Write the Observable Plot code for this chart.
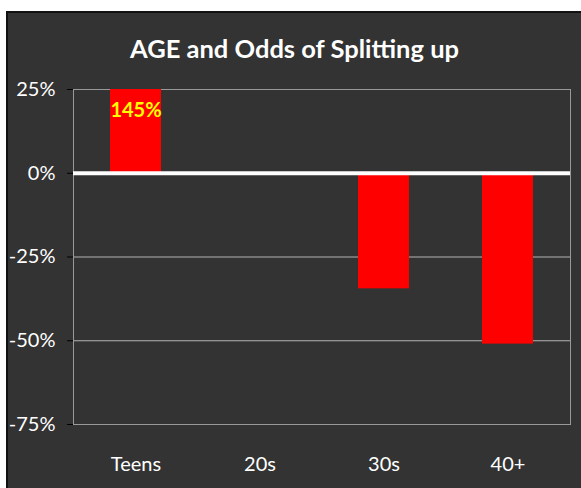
<!DOCTYPE html>
<html>
<head>
<meta charset="utf-8">
<script src="https://cdn.jsdelivr.net/npm/d3@7"></script>
<script src="https://cdn.jsdelivr.net/npm/@observablehq/plot@0.6"></script>
<style>
  html, body { margin: 0; padding: 0; background: #ffffff; }
  #panel {
    position: absolute; left: 6px; top: 11px;
    width: 573px; height: 475px;
    background: #333333;
    border-left: 2px solid #111111; border-top: 2px solid #111111;
    overflow: hidden;
  }
  #title {
    position: absolute; left: 0; top: 22px; width: 100%;
    text-align: center; color: #ffffff;
    font-family: Lato, sans-serif; font-weight: bold; font-size: 25.5px; line-height: 26px;
  }
  #chart { position: absolute; left: 0; top: 0; }
</style>
</head>
<body>
<div id="panel">
  <div id="chart"></div>
  <div id="title">AGE and Odds of Splitting up</div>
</div>
<script>
const categories = ["Teens", "20s", "30s", "40+"];
const values = [145, 0, -34.5, -51];
const dataLabels = ["145%", null, null, null];
const yTicks = [25, 0, -25, -50, -75];

const data = categories.map((c, i) => ({cat: c, value: values[i], label: dataLabels[i]}));

const chart = Plot.plot({
  width: 573,
  height: 475,
  marginLeft: 65,
  marginRight: 11,
  marginTop: 76,
  marginBottom: 64,
  style: {background: "transparent", color: "#ffffff", fontFamily: "Lato, sans-serif", fontSize: "20px"},
  x: {domain: categories, paddingInner: 0.59, paddingOuter: 0.295, label: null},
  y: {domain: [-75, 25], clamp: true, label: null},
  marks: [
    Plot.gridY(yTicks, {stroke: "#b4b4b4", strokeOpacity: 1}),
    Plot.frame({stroke: "#999999"}),
    Plot.barY(data, {x: "cat", y: "value", fill: "#ff0000"}),
    Plot.ruleY([0], {stroke: "#ffffff", strokeWidth: 4}),
    Plot.axisY(yTicks, {tickFormat: d => d + "%", tickSize: 6, tickPadding: 12, stroke: "#000000", fill: "#ffffff", label: null}),
    Plot.axisX({tickSize: 0, tickPadding: 32, label: null, fill: "#ffffff"}),
    Plot.text(data.filter(d => d.label), {x: "cat", y: "value", text: "label", dy: 21, fill: "#ffff00", fontWeight: "bold", fontSize: 20})
  ]
});
document.getElementById("chart").appendChild(chart);
</script>
</body>
</html>
